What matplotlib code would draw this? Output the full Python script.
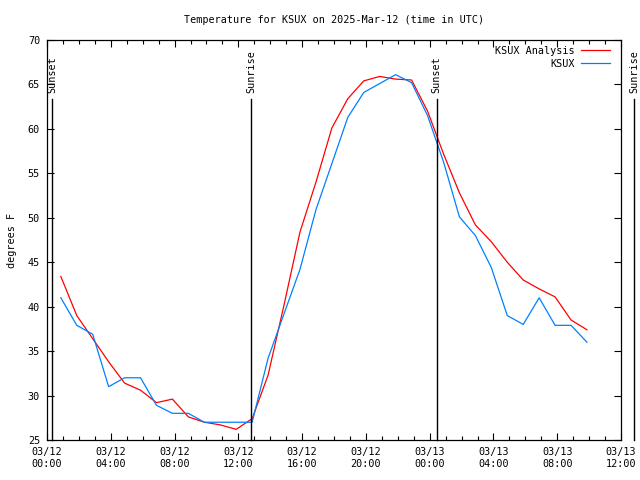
import pandas as pd
import matplotlib
matplotlib.use("Agg")
import matplotlib.pyplot as plt
import matplotlib.dates as mdates
import matplotlib.transforms as mtransforms

# hourly observations at :52 past the hour
obs_times = pd.date_range("2025-03-12 00:52", periods=34, freq="h")

analysis_f = [43.4, 39.0, 36.4, 33.8, 31.4, 30.6, 29.2, 29.6, 27.6, 27.0,
              26.7, 26.2, 27.4, 32.3, 40.2, 48.4, 54.0, 60.1, 63.4, 65.4,
              65.9, 65.6, 65.5, 62.0, 57.2, 52.8, 49.2, 47.3, 45.0, 43.0,
              42.0, 41.1, 38.5, 37.4]

ksux_f = [41.0, 37.9, 36.9, 31.0, 32.0, 32.0, 28.9, 28.0, 28.0, 27.0,
          27.0, 27.0, 27.0, 34.2, 39.2, 44.2, 50.9, 56.1, 61.3, 64.1,
          65.1, 66.1, 65.2, 61.5, 56.3, 50.1, 48.0, 44.4, 39.0, 38.0,
          41.0, 37.9, 37.9, 36.0]

sun_times = pd.to_datetime(["2025-03-12 00:20", "2025-03-12 12:48",
                            "2025-03-13 00:27", "2025-03-13 12:50"])
sun_labels = ["Sunset", "Sunrise", "Sunset", "Sunrise"]

y_ticks = [25, 30, 35, 40, 45, 50, 55, 60, 65, 70]

FONT = "DejaVu Sans Mono"
FS = 7.3

fig = plt.figure(figsize=(6.4, 4.8), dpi=100)
ax = fig.add_axes([47 / 640, 40 / 480, 574 / 640, 400 / 480])

ax.plot(obs_times, analysis_f, color="#ff0000", linewidth=0.9, label="KSUX Analysis")
ax.plot(obs_times, ksux_f, color="#0080ff", linewidth=0.9, label="KSUX")

trans = mtransforms.blended_transform_factory(ax.transData, ax.transAxes)
for t, lab in zip(sun_times, sun_labels):
    ax.plot([t, t], [0, 0.8525], color="black", linewidth=1.0,
            transform=trans, clip_on=False)
    ax.text(t, 0.868, lab, rotation=90, ha="center", va="bottom",
            transform=trans, fontsize=FS, family=FONT, clip_on=False)

ax.set_xlim(pd.Timestamp("2025-03-12 00:00"), pd.Timestamp("2025-03-13 12:00"))
ax.set_ylim(25, 70)
ax.set_yticks(y_ticks)

ax.xaxis.set_major_locator(mdates.HourLocator(byhour=range(0, 24, 4)))
ax.xaxis.set_minor_locator(mdates.HourLocator())
ax.xaxis.set_major_formatter(mdates.DateFormatter("%m/%d\n%H:%M"))

ax.tick_params(which="both", direction="in", top=True, right=True,
               width=0.8, labelsize=FS)
ax.tick_params(which="major", length=5)
ax.tick_params(which="minor", length=3)
ax.tick_params(axis="x", pad=5)
ax.tick_params(axis="y", pad=5)
for lab in ax.get_xticklabels() + ax.get_yticklabels():
    lab.set_family(FONT)
for s in ax.spines.values():
    s.set_linewidth(0.9)

ax.set_ylabel("degrees F", fontsize=FS, family=FONT, labelpad=8)
ax.set_title("Temperature for KSUX on 2025-Mar-12 (time in UTC)",
             fontsize=FS, family=FONT, pad=12)

ax.legend(loc="upper right", bbox_to_anchor=(0.981, 0.985), markerfirst=False,
          frameon=False, handlelength=2.9, handletextpad=0.6, labelspacing=0.3,
          borderpad=0, borderaxespad=0, prop={"family": FONT, "size": FS})

plt.savefig("out.png", dpi=100)
